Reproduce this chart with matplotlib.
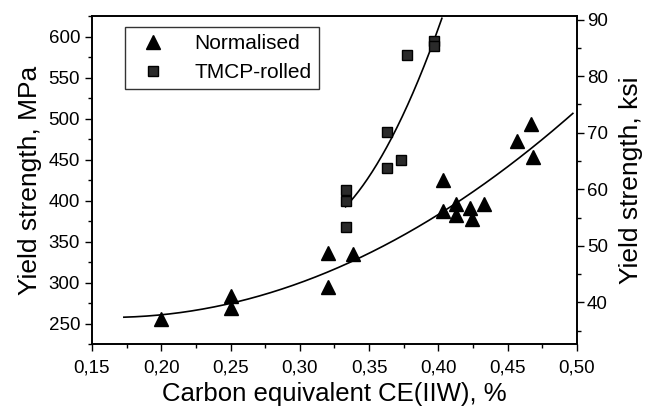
import matplotlib.pyplot as plt
from matplotlib.ticker import MultipleLocator, FuncFormatter
import numpy as np

plt.rcParams['font.family'] = ['Liberation Sans', 'DejaVu Sans']

# Normalised steels (triangles)
norm_ce = [0.200, 0.250, 0.250, 0.320, 0.320, 0.338, 0.403, 0.403, 0.413,
           0.413, 0.423, 0.424, 0.433, 0.457, 0.467, 0.468]
norm_ys = [255, 283, 269, 336, 295, 335, 425, 387, 396, 382, 391, 377, 396,
           472, 493, 453]

# TMCP-rolled steels (squares)
tmcp_ce = [0.333, 0.333, 0.333, 0.363, 0.363, 0.373, 0.377, 0.397, 0.397]
tmcp_ys = [413, 399, 368, 484, 440, 449, 578, 595, 589]

# ranges of the fitted curves
norm_fit_range = (0.173, 0.497)
tmcp_fit_range = (0.333, 0.4025)

MPA_PER_KSI = 6.895

fig = plt.figure(figsize=(6.46, 4.11), dpi=100)
ax = fig.add_axes([0.1424, 0.163, 0.7508, 0.798])

# fitted trend lines (2nd-order polynomial fit of each data set)
for xs, ys, rng in [(norm_ce, norm_ys, norm_fit_range),
                    (tmcp_ce, tmcp_ys, tmcp_fit_range)]:
   p = np.polyfit(xs, ys, 2)
   xx = np.linspace(rng[0], rng[1], 200)
   ax.plot(xx, np.polyval(p, xx), color='black', lw=1.2, zorder=2)

ax.plot(norm_ce, norm_ys, ls='none', marker='^', ms=10, color='black',
        label='Normalised', zorder=3)
ax.plot(tmcp_ce, tmcp_ys, ls='none', marker='s', ms=7.5, mfc='#2a2a2a',
        mec='black', label='TMCP-rolled', zorder=3)

ax.set_xlim(0.15, 0.50)
ax.set_ylim(225, 625)
ax.xaxis.set_major_locator(MultipleLocator(0.05))
ax.xaxis.set_minor_locator(MultipleLocator(0.025))
ax.yaxis.set_major_locator(MultipleLocator(50))
ax.yaxis.set_minor_locator(MultipleLocator(25))
ax.xaxis.set_major_formatter(FuncFormatter(lambda v, pos: ('%.2f' % v).replace('.', ',')))
ax.tick_params(which='both', direction='out', labelsize=13.5, width=1.0)
ax.tick_params(axis='x', pad=6)
ax.tick_params(which='major', length=5)
ax.tick_params(which='minor', length=3)
ax.tick_params(axis='y', which='both', right=False)
ax.set_xlabel('Carbon equivalent CE(IIW), %', fontsize=18.5, labelpad=4)
ax.set_ylabel('Yield strength, MPa', fontsize=19, labelpad=5)

ax2 = ax.twinx()
ax2.set_ylim(225 / MPA_PER_KSI, 625 / MPA_PER_KSI)
ax2.yaxis.set_major_locator(MultipleLocator(10))
ax2.yaxis.set_minor_locator(MultipleLocator(5))
ax2.tick_params(which='both', direction='out', labelsize=13.5, width=1.0, pad=2)
ax2.tick_params(which='major', length=5)
ax2.tick_params(which='minor', length=3)
ax2.set_ylabel('Yield strength, ksi', fontsize=19, labelpad=8)

for a in (ax, ax2):
   for s in a.spines.values():
      s.set_linewidth(1.2)

leg = ax.legend(loc='upper left', bbox_to_anchor=(0.055, 0.985), fontsize=15,
                frameon=True, fancybox=False, edgecolor='black',
                handletextpad=1.0, handlelength=2.0, borderpad=0.35,
                labelspacing=0.45, borderaxespad=0.3)
leg.get_frame().set_linewidth(1.0)

fig.savefig('out.png', dpi=100)
